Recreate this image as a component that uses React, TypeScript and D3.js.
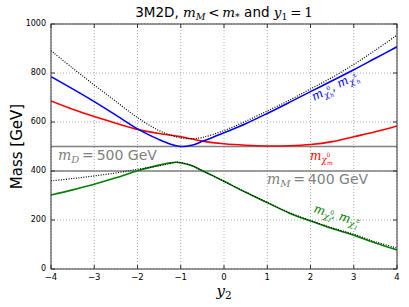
import React from "react";
import * as d3 from "d3";

// ---- data ----
const y2Heavy = [-4, -3.5, -3, -2.5, -2, -1.5, -1.25, -1, -0.75, -0.5, -0.25, 0, 0.5, 1, 1.5, 2, 2.5, 3, 3.5, 4];
const massHeavy = [785, 735, 683, 628, 572, 528, 510, 500, 505, 521, 538, 556, 593, 635, 679, 724, 768, 813, 860, 907];

const y2UpperDot = [-4, -3.5, -3, -2.5, -2, -1.5, -1, -0.75, -0.5, 0, 0.5, 1, 1.5, 2, 2.5, 3, 3.5, 4];
const massUpperDot = [891, 820, 751, 684, 618, 565, 535, 532, 537, 565, 603, 645, 688, 735, 782, 835, 893, 955];

const y2Mid = [-4, -3.5, -3, -2.5, -2, -1.5, -1, -0.5, 0, 0.5, 1, 1.5, 2, 2.5, 3, 3.5, 4];
const massMid = [686, 652, 622, 595, 570, 553, 540, 522, 511, 505, 502, 503, 508, 520, 540, 560, 584];

const y2Light = [-4, -3.5, -3, -2.5, -2, -1.5, -1.25, -1.1, -1, -0.75, -0.5, -0.25, 0, 0.5, 1, 1.5, 2, 2.5, 3, 3.5, 4];
const massLight = [302, 323, 346, 372, 401, 424, 433, 436, 434, 422, 401, 380, 358, 313, 271, 229, 196, 165, 138, 106, 78];

const y2LowerDot = [-4, -3.5, -3, -2.5, -2, -1.5, -1.25, -1.1, -1, -0.75, -0.5, -0.25, 0, 0.5, 1, 1.5, 2, 2.5, 3, 3.5, 4];
const massLowerDot = [360, 369, 380, 392, 407, 421, 430, 436, 434, 422, 401, 380, 358, 314, 272, 231, 198, 168, 142, 111, 86];

const mD = 500;
const mM = 400;

const xTicks = [-4, -3, -2, -1, 0, 1, 2, 3, 4];
const yTicks = [0, 200, 400, 600, 800, 1000];

const W = 409, H = 307;
const L = 51, R = 397, T = 24, B = 269;
const SANS = "'DejaVu Sans', sans-serif";
const SERIF = "'DejaVu Serif', serif";

export default function App() {
  const x = d3.scaleLinear().domain([-4, 4]).range([L, R]);
  const y = d3.scaleLinear().domain([0, 1000]).range([B, T]);
  const mk = (xs: number[], ys: number[]) =>
    d3.line<number>().x((_, i) => x(xs[i])).y((d) => y(d)).curve(d3.curveCatmullRom.alpha(0.5))(ys) || "";

  const fmt = (v: number) => (v < 0 ? "\u2212" + Math.abs(v) : String(v));

  return (
    <svg width={W} height={H} style={{ position: "absolute", left: 0, top: 0, background: "#fff" }}>
      <defs>
        <clipPath id="pa">
          <rect x={L} y={T} width={R - L} height={B - T} />
        </clipPath>
      </defs>
      <rect x={0} y={0} width={W} height={H} fill="#fff" />
      {/* grid */}
      {xTicks.map((t) => (
        <line key={"gx" + t} x1={x(t)} x2={x(t)} y1={T} y2={B} stroke="#999" strokeWidth={0.8} strokeDasharray="1,2" />
      ))}
      {yTicks.map((t) => (
        <line key={"gy" + t} x1={L} x2={R} y1={y(t)} y2={y(t)} stroke="#999" strokeWidth={0.8} strokeDasharray="1,2" />
      ))}
      <g clipPath="url(#pa)">
        <line x1={L} x2={R} y1={y(mD)} y2={y(mD)} stroke="#808080" strokeWidth={1.6} />
        <line x1={L} x2={R} y1={y(mM)} y2={y(mM)} stroke="#808080" strokeWidth={1.6} />
        <path d={mk(y2Mid, massMid)} fill="none" stroke="#ff0000" strokeWidth={1.6} />
        <path d={mk(y2Heavy, massHeavy)} fill="none" stroke="#0000ff" strokeWidth={1.6} />
        <path d={mk(y2Light, massLight)} fill="none" stroke="#008000" strokeWidth={1.6} />
        <path d={mk(y2UpperDot, massUpperDot)} fill="none" stroke="#000" strokeWidth={1.2} strokeDasharray="1,1.5" />
        <path d={mk(y2LowerDot, massLowerDot)} fill="none" stroke="#000" strokeWidth={1.2} strokeDasharray="1,1.5" />
      </g>
      {/* frame */}
      <rect x={L} y={T} width={R - L} height={B - T} fill="none" stroke="#333" strokeWidth={1} />
      {/* ticks */}
      {xTicks.map((t) => (
        <g key={"tx" + t}>
          <line x1={x(t)} x2={x(t)} y1={B} y2={B - 4} stroke="#333" />
          <line x1={x(t)} x2={x(t)} y1={T} y2={T + 4} stroke="#333" />
          <text x={x(t)} y={B + 11} fontSize={8.5} fontFamily={SANS} textAnchor="middle" fill="#000">{fmt(t)}</text>
        </g>
      ))}
      {yTicks.map((t) => (
        <g key={"ty" + t}>
          <line x1={L} x2={L + 4} y1={y(t)} y2={y(t)} stroke="#333" />
          <line x1={R} x2={R - 4} y1={y(t)} y2={y(t)} stroke="#333" />
          <text x={L - 5} y={y(t) + 2} fontSize={8} fontFamily={SANS} textAnchor="end" fill="#000">{t}</text>
        </g>
      ))}
      {/* title */}
      <text x={224} y={17} fontSize={13.5} fontFamily={SANS} textAnchor="middle" fill="#000">
        3M2D,{" "}
        <tspan fontFamily={SERIF} fontStyle="italic">m</tspan>
        <tspan fontFamily={SERIF} fontStyle="italic" fontSize={9.5} dy={3}>M</tspan>
        <tspan fontFamily={SERIF} dy={-3}>{"\u2009<\u2009"}</tspan>
        <tspan fontFamily={SERIF} fontStyle="italic">m</tspan>
        <tspan fontFamily={SERIF} fontStyle="italic" fontSize={9.5} dy={3}>*</tspan>
        <tspan dy={-3}> and </tspan>
        <tspan fontFamily={SERIF} fontStyle="italic">y</tspan>
        <tspan fontFamily={SERIF} fontSize={9.5} dy={3}>1</tspan>
        <tspan fontFamily={SERIF} dy={-3}>{"\u2009=\u20091"}</tspan>
      </text>
      {/* axis labels */}
      <text transform={`translate(22,${(T + B) / 2}) rotate(-90)`} fontSize={15} fontFamily={SANS} textAnchor="middle" fill="#000">
        Mass [GeV]
      </text>
      <text x={(L + R) / 2} y={296} fontSize={15} fontFamily={SERIF} fontStyle="italic" textAnchor="middle" fill="#000">
        y<tspan fontStyle="normal" fontSize={10.5} dy={3}>2</tspan>
      </text>
      {/* annotations */}
      <text x={58} y={160} fontSize={14} fontFamily={SANS} fill="#808080">
        <tspan fontFamily={SERIF} fontStyle="italic">m</tspan>
        <tspan fontFamily={SERIF} fontStyle="italic" fontSize={10} dy={3}>D</tspan>
        <tspan fontFamily={SERIF} dy={-3}>{"\u2009=\u2009"}</tspan>
        <tspan>500 GeV</tspan>
      </text>
      <text x={267} y={184} fontSize={14} fontFamily={SANS} fill="#808080">
        <tspan fontFamily={SERIF} fontStyle="italic">m</tspan>
        <tspan fontFamily={SERIF} fontStyle="italic" fontSize={10} dy={3}>M</tspan>
        <tspan fontFamily={SERIF} dy={-3}>{"\u2009=\u2009"}</tspan>
        <tspan>400 GeV</tspan>
      </text>
      <text x={310} y={160} fontSize={12} fontFamily={SERIF} fontStyle="italic" fill="#ff0000">
        m<tspan fontSize={8.5} dy={3}>χ</tspan>
        <tspan fontSize={6} dy={-6} fontStyle="normal">0</tspan>
        <tspan fontSize={6} dx={-3.5} dy={8}>m</tspan>
      </text>
      <text transform="translate(314,101) rotate(-27)" fontSize={12} fontFamily={SERIF} fontStyle="italic" fill="#0000ff">
        m<tspan fontSize={8.5} dy={3}>χ</tspan>
        <tspan fontSize={6} dy={-6} fontStyle="normal">0</tspan>
        <tspan fontSize={6} dx={-3.5} dy={8}>h</tspan>
        <tspan fontStyle="normal" dy={-5}>, </tspan>
        m<tspan fontSize={8.5} dy={3}>χ</tspan>
        <tspan fontSize={6} dy={-6} fontStyle="normal">±</tspan>
        <tspan fontSize={6} dx={-3.5} dy={8}>h</tspan>
      </text>
      <text transform="translate(313,212) rotate(17)" fontSize={12} fontFamily={SERIF} fontStyle="italic" fill="#008000">
        m<tspan fontSize={8.5} dy={3}>χ</tspan>
        <tspan fontSize={6} dy={-6} fontStyle="normal">0</tspan>
        <tspan fontSize={6} dx={-3.5} dy={8}>l</tspan>
        <tspan fontStyle="normal" dy={-5}>, </tspan>
        m<tspan fontSize={8.5} dy={3}>χ</tspan>
        <tspan fontSize={6} dy={-6} fontStyle="normal">±</tspan>
        <tspan fontSize={6} dx={-3.5} dy={8}>l</tspan>
      </text>
    </svg>
  );
}
